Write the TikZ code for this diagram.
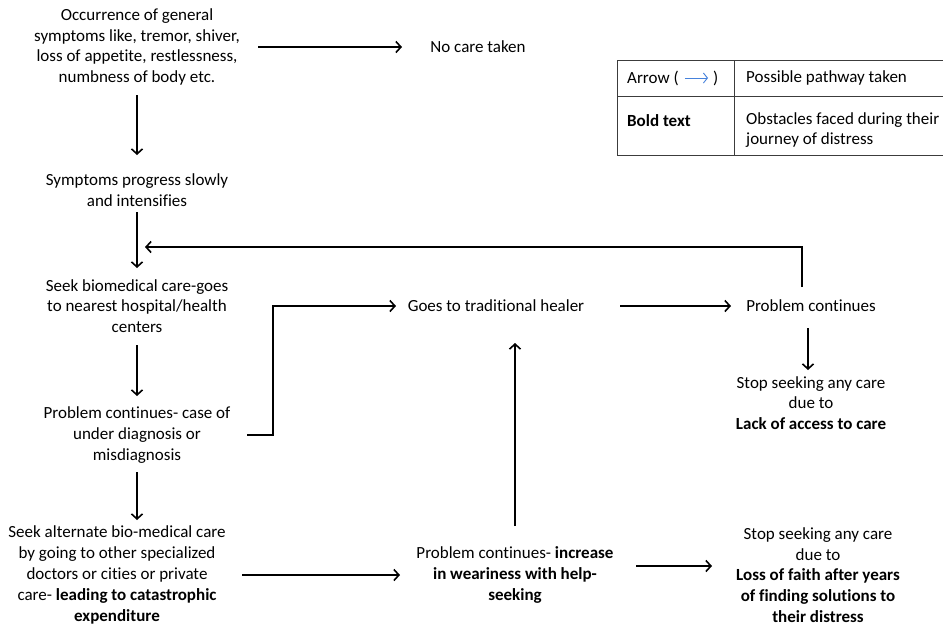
\documentclass[tikz,border=0pt]{standalone}
\usepackage{fontspec}
\setmainfont{Carlito}[Ligatures=NoCommon]
\usetikzlibrary{arrows.meta}
\begin{document}
\begin{tikzpicture}[x=1pt,y=-1pt,
  txt/.style={align=center,inner sep=0pt,font=\fontsize{17}{20.8}\selectfont},
  ltxt/.style={align=left,inner sep=0pt,anchor=west,font=\fontsize{17}{20}\selectfont},
  arr/.style={line width=1.6pt,-{Straight Barb[length=5pt,width=11pt,line width=1.6pt]}},
  barr/.style={line width=0.9pt,draw={rgb,255:red,70;green,130;blue,220},-{Straight Barb[length=4pt,width=10pt,line width=0.9pt]}},
  rule/.style={line width=1pt,draw={rgb,255:red,60;green,60;blue,60}}]
\useasboundingbox[fill=white] (0,0) rectangle (943,625);

% nodes
\node[txt] (n1) at (137,47) {Occurrence of general\\symptoms like, tremor, shiver,\\loss of appetite, restlessness,\\numbness of body etc.};
\node[txt] (nocare) at (478,47) {No care taken};
\node[txt] (n2) at (137,190) {Symptoms progress slowly\\and intensifies};
\node[txt] (n3) at (137,306) {Seek biomedical care-goes\\to nearest hospital/health\\centers};
\node[txt] (n4) at (137,435) {Problem continues- case of\\under diagnosis or\\misdiagnosis};
\node[txt] (healer) at (496,306) {Goes to traditional healer};
\node[txt] (pc) at (811,306) {Problem continues};
\node[txt] (stop1) at (811,403) {Stop seeking any care\\due to\\\textbf{Lack of access to care}};
\node[txt] (n5) at (117,575) {Seek alternate bio-medical care\\by going to other specialized\\doctors or cities or private\\care- \textbf{leading to catastrophic}\\\textbf{expenditure}};
\node[txt] (n6) at (515,575) {Problem continues- \textbf{increase}\\\textbf{in weariness with help-}\\\textbf{seeking}};
\node[txt] (stop2) at (818,575) {Stop seeking any care\\due to\\\textbf{Loss of faith after years}\\\textbf{of finding solutions to}\\\textbf{their distress}};
\coordinate (join) at (145,247);

% connectors
\draw[arr] ([yshift=-48pt]n1.center) -- ([yshift=35pt]n2.center);
\draw[arr] ([xshift=121pt]n1.center) -- ([xshift=-76pt]nocare.center);
\draw[arr] ([yshift=-22pt]n2.center) -- ([yshift=38pt]n3.center);
\draw[arr] ([yshift=-39pt]n3.center) -- ([yshift=39pt]n4.center);
\draw[arr] ([xshift=110pt]n4.center) -- ++(26,0) |- ([xshift=-100pt]healer.center);
\draw[arr] ([xshift=124pt]healer.center) -- ([xshift=-80pt]pc.center);
\draw[arr] ([xshift=-9pt,yshift=19pt]pc.center) |- (join);
\draw[arr] ([xshift=-3pt,yshift=-22pt]pc.center) -- ([xshift=-3pt,yshift=33pt]stop1.center);
\draw[arr] ([yshift=-37pt]n4.center) -- ([xshift=20pt,yshift=55pt]n5.center);
\draw[arr] ([xshift=125pt]n5.center) -- ([xshift=-115pt]n6.center);
\draw[arr] ([yshift=49pt]n6.center) -- ([xshift=19pt,yshift=-37pt]healer.center);
\draw[arr] ([xshift=121pt,yshift=9pt]n6.center) -- ([xshift=-106pt,yshift=9pt]stop2.center);

% legend
\draw[rule] (950,60) -- (617,60) -- (617,155) -- (950,155);
\draw[rule] (617,96) -- (950,96);
\draw[rule] (734,60) -- (734,155);
\node[ltxt] (la) at (627,78) {Arrow (};
\node[ltxt] (lb) at (713,78) {)};
\draw[barr] ([xshift=6pt]la.east) -- ([xshift=-5pt]lb.west);
\node[ltxt] (lc) at (746,78) {Possible pathway taken};
\node[ltxt] (ld) at (627,121) {\textbf{Bold text}};
\node[ltxt] (le) at (746,130) {Obstacles faced during their\\journey of distress};
\end{tikzpicture}
\end{document}
